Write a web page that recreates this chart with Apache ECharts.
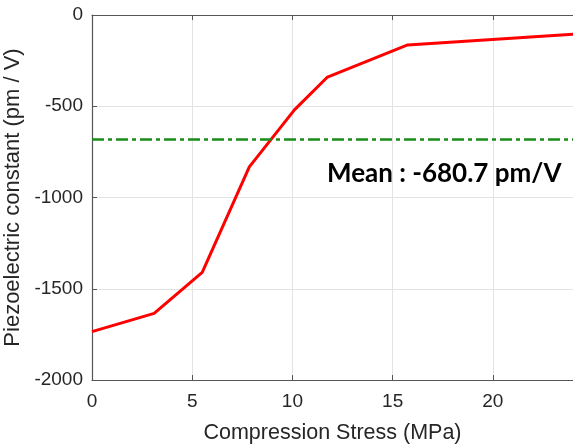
<!DOCTYPE html>
<html>
<head>
<meta charset="utf-8">
<script src="https://cdn.jsdelivr.net/npm/echarts@6/dist/echarts.min.js"></script>
<style>html,body{margin:0;padding:0;background:#fff}#c{width:573px;height:447px}</style>
</head>
<body>
<div id="c"></div>
<script>
var stress = [0, 3.1, 5.5, 7.85, 10.1, 11.75, 15.75, 24];
var piezo = [-1735, -1635, -1410, -832, -520, -340, -164, -106];
var meanValue = -680.7;
var meanText = 'Mean : -680.7 pm/V';
var xTicks = [0, 5, 10, 15, 20];
var yTicks = [0, -500, -1000, -1500, -2000];

var chart = echarts.init(document.getElementById('c'));
var axisColor = '#555';
var textColor = '#262626';
var plain = function (v) { return String(v); };
chart.setOption({
  animation: false,
  grid: { left: 92, right: 0, top: 15, bottom: 67, containLabel: false, outerBoundsMode: 'none' },
  xAxis: [{
    type: 'value', min: 0, max: 24, interval: 5,
    name: 'Compression Stress (MPa)', nameLocation: 'middle', nameGap: 42,
    nameTextStyle: { fontFamily: 'Liberation Sans', fontSize: 21.5, color: textColor },
    axisLine: { show: true, onZero: false, lineStyle: { color: axisColor, width: 1.2 } },
    axisTick: { show: true, inside: true, length: 5, lineStyle: { color: axisColor } },
    axisLabel: { fontFamily: 'Liberation Sans', fontSize: 19, color: textColor, margin: 12, showMaxLabel: false,
      formatter: function (v) { return xTicks.indexOf(v) >= 0 ? String(v) : ''; } },
    splitLine: { show: true, lineStyle: { color: '#e3e3e3', width: 1 } }
  }, {
    type: 'value', position: 'top', min: 0, max: 24, interval: 5,
    axisLine: { show: true, lineStyle: { color: axisColor, width: 1.2 } },
    axisTick: { show: true, inside: true, length: 5, lineStyle: { color: axisColor } },
    axisLabel: { show: false },
    splitLine: { show: false }
  }],
  yAxis: {
    type: 'value', min: -2000, max: 0, interval: 500,
    name: 'Piezoelectric constant (pm / V)', nameLocation: 'middle', nameGap: 68,
    nameTextStyle: { fontFamily: 'Liberation Sans', fontSize: 22, color: textColor },
    axisLine: { show: true, onZero: false, lineStyle: { color: axisColor, width: 1.2 } },
    axisTick: { show: true, inside: true, length: 5, lineStyle: { color: axisColor } },
    axisLabel: { fontFamily: 'Liberation Sans', fontSize: 19, color: textColor, margin: 9,
      formatter: function (v) { return yTicks.indexOf(v) >= 0 ? plain(v) : ''; } },
    splitLine: { show: true, lineStyle: { color: '#e3e3e3', width: 1 } }
  },
  series: [{
    type: 'line',
    data: stress.map(function (x, i) { return [x, piezo[i]]; }),
    symbol: 'none',
    lineStyle: { color: '#ff0000', width: 3 },
    markLine: {
      silent: true, symbol: 'none', label: { show: false },
      lineStyle: { color: '#1a8c1a', width: 2.5, type: [12, 4, 4, 4] },
      data: [{ yAxis: meanValue }]
    },
    z: 3
  }],
  graphic: [{
    type: 'text', left: 327, top: 161,
    style: { text: meanText, font: 'bold 26px Lato', fill: '#000' }
  }]
});
</script>
</body>
</html>
